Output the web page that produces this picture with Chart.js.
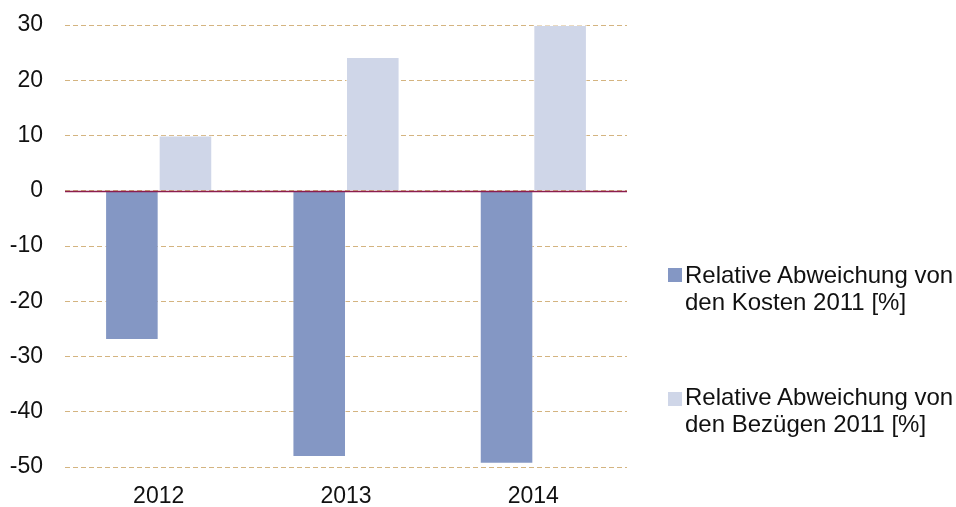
<!DOCTYPE html>
<html>
<head>
<meta charset="utf-8">
<script src="https://cdn.jsdelivr.net/npm/chart.js@4/dist/chart.umd.min.js"></script>
<style>
  html, body { margin: 0; padding: 0; background: #fff; }
  #wrap { position: relative; width: 956px; height: 507px; }
  #legend { position: absolute; left: 0; top: 0; font-family: "Liberation Sans", Arial, sans-serif; font-size: 24px; color: #111; }
  .sw { position: absolute; left: 668px; width: 14px; height: 14px; }
  .txt { position: absolute; left: 685px; line-height: 27px; white-space: nowrap; }
</style>
</head>
<body>
<div id="wrap">
  <canvas id="c" width="956" height="507"></canvas>
  <div id="legend"></div>
</div>
<script>
const categories = ["2012", "2013", "2014"];
const kostenValues = [-27, -48.2, -49.4];
const bezuegeValues = [10, 24.2, 30];
const seriesLabels = [
  ["Relative Abweichung von", "den Kosten 2011 [%]"],
  ["Relative Abweichung von", "den Bezügen 2011 [%]"]
];
const seriesColors = ["#8497C4", "#CFD6E8"];
const yTicks = [30, 20, 10, 0, -10, -20, -30, -40, -50];

const zeroLine = {
  id: 'zeroLine',
  afterDatasetsDraw(chart) {
    const y = Math.round(chart.scales.y.getPixelForValue(0)) + 0.5;
    const ctx = chart.ctx;
    ctx.save();
    ctx.strokeStyle = '#8C1D4E';
    ctx.lineWidth = 1.5;
    ctx.beginPath();
    ctx.moveTo(chart.chartArea.left, y);
    ctx.lineTo(chart.chartArea.right, y);
    ctx.stroke();
    ctx.restore();
  }
};

const axisFont = { family: '"Liberation Sans", Arial, sans-serif', size: 23 };

new Chart(document.getElementById('c'), {
  type: 'bar',
  data: {
    labels: categories,
    datasets: [
      { label: seriesLabels[0].join(' '), data: kostenValues, backgroundColor: seriesColors[0], borderColor: 'rgba(255,255,255,0.5)', borderWidth: 1, categoryPercentage: 0.572, barPercentage: 1 },
      { label: seriesLabels[1].join(' '), data: bezuegeValues, backgroundColor: seriesColors[1], borderColor: 'rgba(255,255,255,0.5)', borderWidth: 1, categoryPercentage: 0.572, barPercentage: 1 }
    ]
  },
  options: {
    responsive: false,
    animation: false,
    layout: { padding: { top: 25, right: 329, left: 0, bottom: 0 } },
    plugins: { legend: { display: false }, tooltip: { enabled: false } },
    scales: {
      x: {
        grid: { display: false },
        border: { display: false },
        ticks: { color: '#111', font: axisFont, padding: 8 },
        afterFit(s) { s.height = 40; s.paddingLeft = 0; s.paddingRight = 0; }
      },
      y: {
        min: -50, max: 30,
        afterBuildTicks(s) { s.ticks = yTicks.map(v => ({ value: v })); },
        grid: { color: '#D4B480', lineWidth: 1, drawTicks: false },
        border: { display: false, dash: [5, 3] },
        ticks: { color: '#111', font: axisFont, padding: 22 },
        afterFit(s) { s.width = 65; s.paddingTop = 0; s.paddingBottom = 0; }
      }
    }
  },
  plugins: [zeroLine]
});

const legend = document.getElementById('legend');
const swTops = [268, 392];
const txtTops = [261, 383];
seriesLabels.forEach((lines, i) => {
  const sw = document.createElement('div');
  sw.className = 'sw';
  sw.style.background = seriesColors[i];
  sw.style.top = swTops[i] + 'px';
  const tx = document.createElement('div');
  tx.className = 'txt';
  tx.style.top = txtTops[i] + 'px';
  tx.innerHTML = lines.join('<br>');
  legend.appendChild(sw);
  legend.appendChild(tx);
});
</script>
</body>
</html>
